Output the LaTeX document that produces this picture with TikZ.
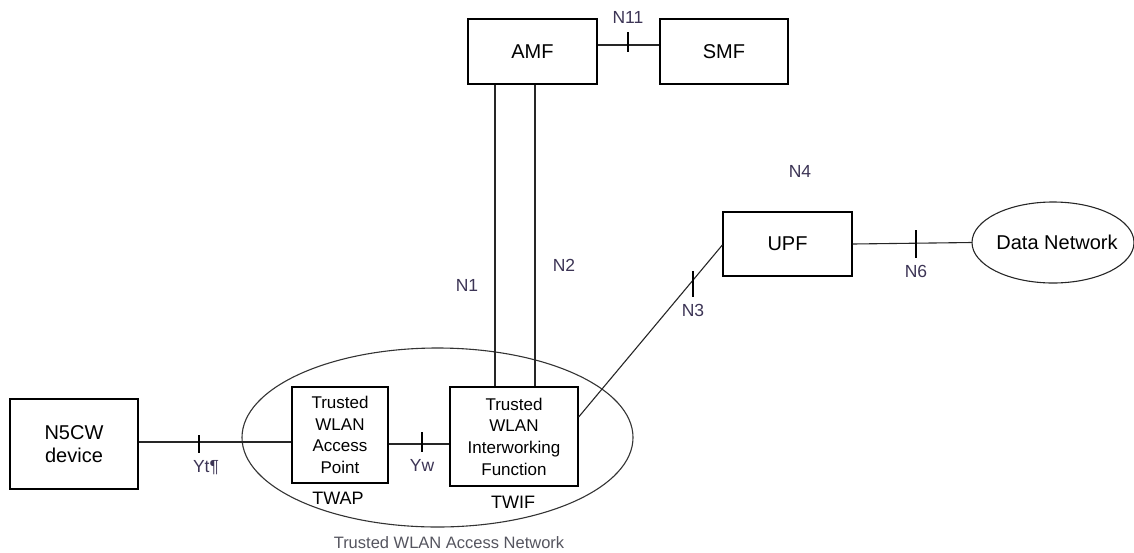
\documentclass[tikz,border=0pt]{standalone}
\usepackage{fontspec}
\setmainfont{Liberation Sans}
\definecolor{lbl}{RGB}{60,52,85}
\definecolor{nettxt}{RGB}{85,85,95}
\begin{document}
\begin{tikzpicture}[x=1pt,y=-1pt,
  every node/.style={font=\fontsize{17.5}{21.7}\selectfont},
  box/.style={draw=black, line width=1.3pt, rectangle, align=center, inner sep=0pt},
  bigtxt/.style={font=\fontsize{20}{23.5}\selectfont},
  smalltxt/.style={font=\fontsize{17}{21.7}\selectfont},
  link/.style={draw=black!85, line width=1.1pt},
  tickline/.style={draw=black, line width=1.2pt},
  ifl/.style={text=lbl, inner sep=0pt}]
\useasboundingbox (0,0) rectangle (1134,552);
% enclosing network ellipse
\draw[black!80, line width=1.1pt] (437.5,437.5) ellipse [x radius=195.5, y radius=89.5];
% boxes
\node[box, bigtxt, minimum width=128, minimum height=90] (n5cw) at (74,444) {N5CW\\device};
\node[box, smalltxt, minimum width=96, minimum height=96] (twap) at (340,435) {Trusted\\WLAN\\Access\\Point};
\node[box, smalltxt, minimum width=128, minimum height=99] (twif) at (514,436.5) {Trusted\\WLAN\\Interworking\\Function};
\node[box, bigtxt, minimum width=129, minimum height=65] (amf) at (532.5,51.5) {AMF};
\node[box, bigtxt, minimum width=128, minimum height=65] (smf) at (724,51.5) {SMF};
\node[box, bigtxt, minimum width=129, minimum height=64] (upf) at (787.5,244) {UPF};
\draw[black!85, line width=1.1pt] (1053,242.5) ellipse [x radius=81, y radius=40.5];
\node[inner sep=0pt, bigtxt] (dn) at (1057,242.5) {Data Network};
\coordinate (dnw) at (972,242.5);
% connectors
\draw[link] (n5cw.east |- 0,442) -- (twap.west |- 0,442);
\draw[link] (twap.east |- 0,444) -- (twif.west |- 0,444);
\draw[link] (amf.south -| 495,0) -- (twif.north -| 495,0);
\draw[link] (amf.south -| 535,0) -- (twif.north -| 535,0);
\draw[link] (amf.east |- 0,45) -- (smf.west |- 0,45);
\draw[link] (twif.east |- 0,417) -- (upf.west |- 0,245);
\draw[link] (upf.east |- 0,244) -- (dnw);
% ticks
\draw[tickline] (199,435) -- (199,453);
\draw[tickline] (422,432) -- (422,452);
\draw[tickline] (628,32) -- (628,52);
\draw[tickline] (693,271) -- (693,297);
\draw[tickline] (916,230) -- (916,258);
% labels
\node[ifl] (lyt) at (206,468) {Yt¶};
\node[ifl] (lyw) at (422,465) {Yw};
\node[ifl] (ln11) at (628,17) {N11};
\node[ifl] (ln1) at (467,285) {N1};
\node[ifl] (ln2) at (564,265) {N2};
\node[ifl] (ln3) at (693,310) {N3};
\node[ifl] (ln4) at (800,171) {N4};
\node[ifl] (ln6) at (916,271) {N6};
\node[inner sep=0pt, font=\fontsize{18}{21}\selectfont] (ltwap) at (338,498) {TWAP};
\node[inner sep=0pt, font=\fontsize{18}{21}\selectfont] (ltwif) at (513,502) {TWIF};
\node[inner sep=0pt, text=nettxt, font=\fontsize{16.5}{19}\selectfont] (lnet) at (449,543) {Trusted WLAN Access Network};
\end{tikzpicture}
\end{document}
